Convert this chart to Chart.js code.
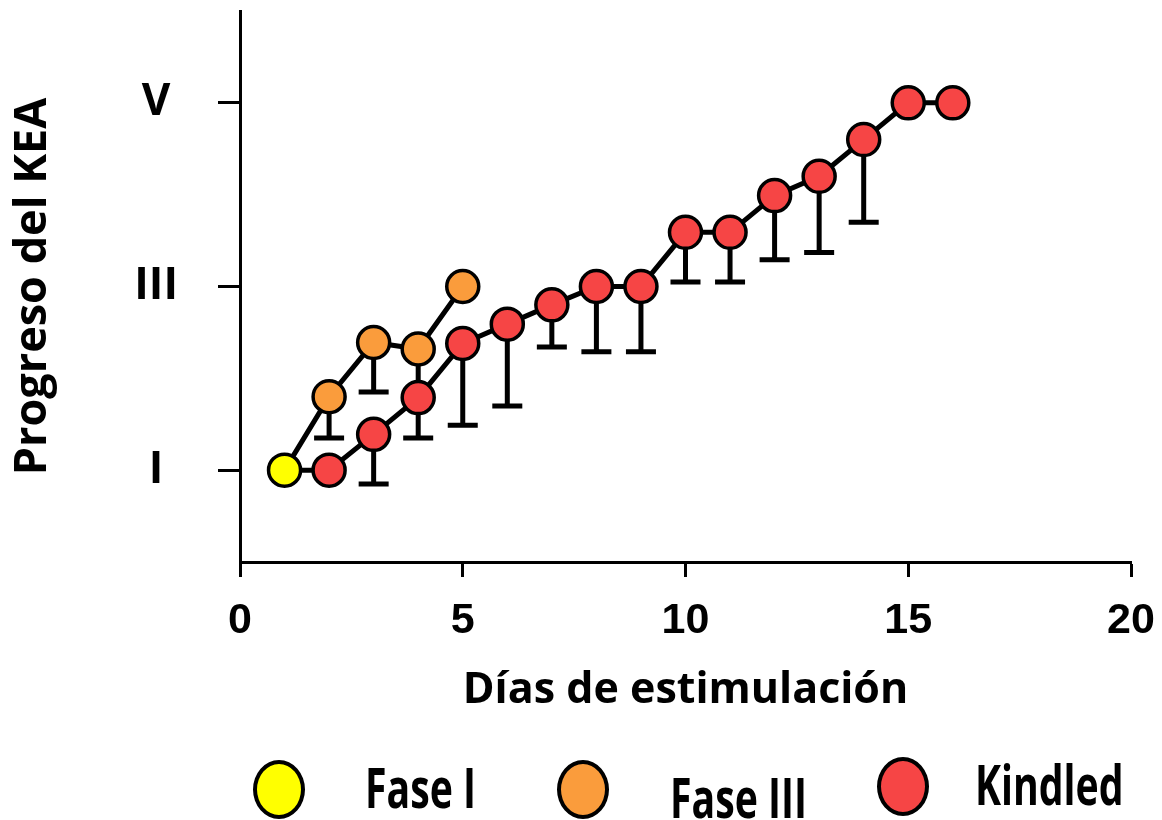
<!DOCTYPE html>
<html>
<head>
<meta charset="utf-8">
<script src="https://cdn.jsdelivr.net/npm/chart.js@4.4.1/dist/chart.umd.min.js"></script>
<style>
  html, body { margin: 0; padding: 0; background: #fff; }
  #wrap { position: relative; width: 1162px; height: 820px; }
  #kea { position: absolute; left: 0; top: 0; }
  .dot { position: absolute; border: 4.5px solid #000; border-radius: 50%; width: 44px; height: 51px; box-sizing: content-box; }
  .lbl { position: absolute; height: 76px; line-height: 76px; font: bold 56px 'Open Sans', sans-serif; color: #000; white-space: nowrap; transform: scaleX(0.7); transform-origin: left center; }
</style>
</head>
<body>
<div id="wrap">
  <canvas id="kea" width="1162" height="820"></canvas>
  <div id="legend"></div>
</div>
<script>
// datos
const faseIDays = [1];
const faseIMean = [1];

const faseIIIDays = [1, 2, 3, 4, 5];
const faseIIIMean = [1, 1.8, 2.39, 2.32, 3];
const faseIIILow = [null, 1.35, 1.85, 1.8, null];

const kindledDays = [1, 2, 3, 4, 5, 6, 7, 8, 9, 10, 11, 12, 13, 14, 15, 16];
const kindledMean = [1, 1, 1.39, 1.79, 2.38, 2.59, 2.8, 3, 3, 3.59, 3.59, 3.99, 4.2, 4.6, 5, 5];
const kindledLow = [null, null, 0.85, 1.35, 1.49, 1.7, 2.34, 2.29, 2.29, 3.05, 3.05, 3.29, 3.37, 3.7, null, null];

const yTickVals = [1, 3, 5];
const yTickLabels = ['I', 'III', 'V'];

const legendNames = ['Fase I', 'Fase III', 'Kindled'];
const yellow = '#FFFF00';
const orange = '#FA9C3C';
const red = '#F64545';

const toPts = (xs, ys) => xs.map((d, i) => ({ x: d, y: ys[i] }));
// el primer punto queda tapado por el amarillo
const hideFirst = (n) => Array.from({ length: n }, (_, i) => i === 0 ? 0 : 16);

const errorBars = {
  id: 'errorBars',
  beforeDatasetsDraw(chart) {
    const { ctx, scales: { x, y } } = chart;
    ctx.save();
    ctx.strokeStyle = '#000';
    ctx.lineWidth = 5;
    chart.data.datasets.forEach((ds) => {
      if (!ds.lower) return;
      ds.data.forEach((pt, i) => {
        const lo = ds.lower[i];
        if (lo == null) return;
        const px = x.getPixelForValue(pt.x);
        const py = y.getPixelForValue(pt.y);
        const pl = y.getPixelForValue(lo);
        ctx.beginPath();
        ctx.moveTo(px, py);
        ctx.lineTo(px, pl);
        ctx.moveTo(px - 15, pl);
        ctx.lineTo(px + 15, pl);
        ctx.stroke();
      });
    });
    ctx.restore();
  }
};

new Chart(document.getElementById('kea'), {
  type: 'line',
  data: {
    datasets: [
      {
        label: legendNames[0],
        data: toPts(faseIDays, faseIMean),
        backgroundColor: yellow,
        borderColor: '#000',
        pointRadius: 16,
        pointBorderWidth: 3.5,
        showLine: false
      },
      {
        label: legendNames[1],
        data: toPts(faseIIIDays, faseIIIMean),
        lower: faseIIILow,
        backgroundColor: orange,
        borderColor: '#000',
        borderWidth: 5,
        pointRadius: hideFirst(faseIIIDays.length),
        pointBorderWidth: 3.5
      },
      {
        label: legendNames[2],
        data: toPts(kindledDays, kindledMean),
        lower: kindledLow,
        backgroundColor: red,
        borderColor: '#000',
        borderWidth: 5,
        pointRadius: hideFirst(kindledDays.length),
        pointBorderWidth: 3.5
      }
    ]
  },
  options: {
    responsive: false,
    animation: false,
    layout: { autoPadding: false, padding: { left: 0, right: 31, top: 11, bottom: 100 } },
    plugins: { legend: { display: false }, tooltip: { enabled: false } },
    scales: {
      x: {
        type: 'linear',
        min: 0,
        max: 20,
        ticks: {
          stepSize: 5,
          color: '#000',
          padding: 18,
          font: { family: "'Liberation Sans', Arial, sans-serif", weight: 'bold', size: 43 }
        },
        grid: { drawOnChartArea: false, drawTicks: true, tickLength: 15, tickWidth: 3, tickColor: '#000' },
        border: { color: '#000', width: 3 },
        title: {
          display: true, text: 'Días de estimulación', color: '#000',
          font: { family: "'Open Sans', sans-serif", weight: 'bold', size: 43 },
          padding: { top: 0, bottom: 3 }
        },
        afterFit(scale) {
          scale.height = 158;
          scale.paddingLeft = 0;
          scale.paddingRight = 0;
        }
      },
      y: {
        min: 0,
        max: 6,
        afterBuildTicks(scale) { scale.ticks = yTickVals.map(v => ({ value: v })); },
        ticks: {
          color: '#000',
          padding: 40,
          crossAlign: 'center',
          font: { family: "'Open Sans', sans-serif", weight: 'bold', size: 44 },
          callback: (v) => yTickLabels[yTickVals.indexOf(v)]
        },
        grid: { drawOnChartArea: false, drawTicks: true, tickLength: 22, tickWidth: 3, tickColor: '#000' },
        border: { color: '#000', width: 3 },
        title: {
          display: true, text: 'Progreso del KEA', color: '#000',
          font: { family: "'Open Sans', sans-serif", weight: 'bold', size: 45 },
          padding: { top: 6, bottom: 0 }
        },
        afterFit(scale) {
          scale.width = 240;
          scale.paddingTop = 0;
          scale.paddingBottom = 0;
        }
      }
    }
  },
  plugins: [errorBars]
});

// leyenda abajo
const legendColors = [yellow, orange, red];
const dotPos = [[253, 760], [557, 760], [877, 757]];
const lblPos = [[365, 748], [670, 758], [975, 745]];
const legend = document.getElementById('legend');
legendNames.forEach((name, i) => {
  const dot = document.createElement('div');
  dot.className = 'dot';
  dot.style.background = legendColors[i];
  dot.style.left = dotPos[i][0] + 'px';
  dot.style.top = dotPos[i][1] + 'px';
  legend.appendChild(dot);
  const lbl = document.createElement('div');
  lbl.className = 'lbl';
  lbl.textContent = name;
  lbl.style.left = lblPos[i][0] + 'px';
  lbl.style.top = lblPos[i][1] + 'px';
  legend.appendChild(lbl);
});
</script>
</body>
</html>
